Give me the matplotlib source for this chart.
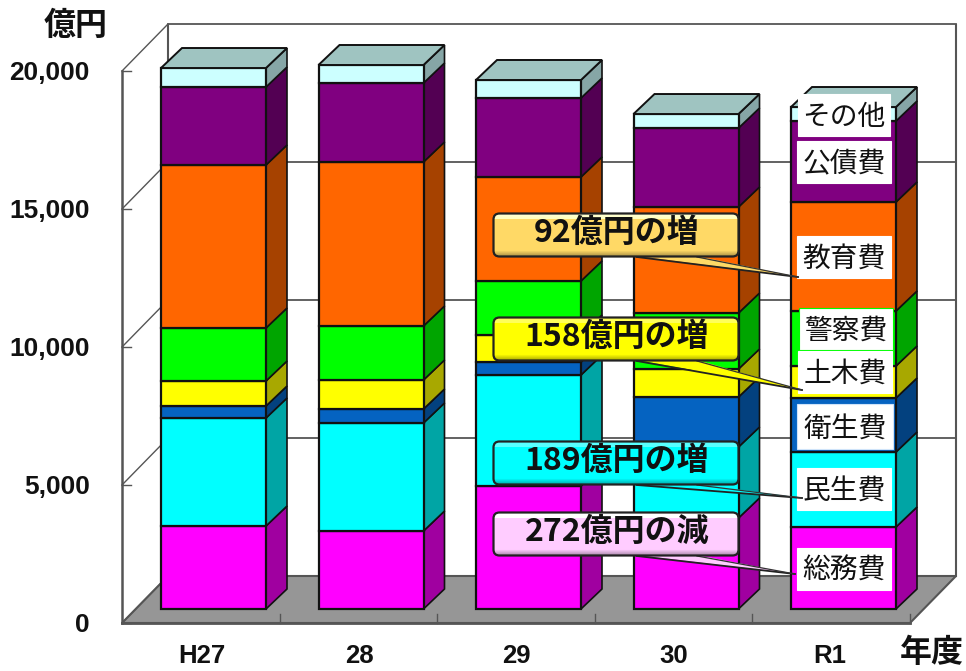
import numpy as np
import matplotlib
matplotlib.use("Agg")
import matplotlib.pyplot as plt
from matplotlib.patches import Polygon, FancyBboxPatch, Rectangle
from matplotlib.colors import to_rgb

plt.rcParams["font.family"] = ["Noto Sans CJK JP", "DejaVu Sans"]

W, H = 966, 671

years = ["H27", "28", "29", "30", "R1"]
y_ticks = [0, 5000, 10000, 15000, 20000]
y_labels = ["0", "5,000", "10,000", "15,000", "20,000"]

# 億円, bottom to top
somu = [3007, 2826, 4457, 3297, 2971]
minsei = [3913, 3913, 4022, 2572, 2717]
eisei = [435, 507, 471, 1812, 1957]
doboku = [906, 1051, 978, 1014, 1159]
keisatsu = [1920, 1957, 1957, 2029, 1993]
kyoiku = [5906, 5942, 3768, 3841, 3949]
kosai = [2826, 2862, 2862, 2862, 2935]
sonota = [688, 652, 652, 507, 507]

series = [somu, minsei, eisei, doboku, keisatsu, kyoiku, kosai, sonota]
face_colors = ["#FF00FF", "#00FFFF", "#0563C1", "#FFFF00", "#00FF00", "#FF6600", "#800080", "#CCFFFF"]
side_colors = ["#A000A0", "#00A5A5", "#03417F", "#A8A800", "#00A500", "#A64200", "#530053", "#86A6A6"]
top_color = "#9FC4C1"

labels = ["その他", "公債費", "教育費", "警察費", "土木費", "衛生費", "民生費", "総務費"]
label_boxes = [(798, 94, 92, 42), (797, 141, 94, 42), (797, 236, 94, 42), (799, 308, 94, 42),
               (798, 351, 94, 42), (797, 404, 96, 45), (797, 468, 94, 42), (797, 548, 94, 42)]
label_edges = ["white", "white", "white", "#00FF00", "white", "#CFE4FA", "white", "white"]

callouts = ["92億円の増", "158億円の増", "189億円の増", "272億円の減"]
callout_colors = ["#FFD966", "#FFFF00", "#00FFFF", "#FFCCFF"]
callout_y = [213, 317, 441, 512]
callout_tips = [(798, 277), (802, 390), (802, 498), (795, 574)]

fig = plt.figure(figsize=(W / 100, H / 100), dpi=100)

# pixel-space layer for the chart walls and annotations
bg = fig.add_axes([0, 0, 1, 1], zorder=0)
bg.set_xlim(0, W)
bg.set_ylim(H, 0)
bg.axis("off")

line = "#555555"
bg.add_patch(Polygon([(122, 623), (910, 623), (956, 576), (168, 576)], fc="#969696", ec=line, lw=1.5))
bg.plot([122, 122], [71, 623], color=line, lw=1.8)
bg.plot([168, 168], [25, 576], color=line, lw=1.5)
bg.plot([956, 956], [25, 576], color=line, lw=1.5)
bg.plot([122, 910], [623, 623], color=line, lw=2)
px_per_unit = 0.0276
for v, lab in zip(y_ticks, y_labels):
    yy = 623 - v * px_per_unit
    bg.plot([122, 168], [yy, yy - 47], color=line, lw=1)
    bg.plot([122, 131], [yy, yy], color=line, lw=1)
    if v > 0:
        bg.plot([168, 956], [yy - 47, yy - 47], color=line, lw=1.3)
    bg.text(90, yy + 2, lab, ha="right", va="center", fontsize=18.9,
            family="Liberation Sans", weight="bold", color="#111111")
for i in range(1, 6):
    xx = 122 + 157.6 * i
    bg.plot([xx, xx], [614, 623], color=line, lw=1)
label_x = [202, 359, 516, 674, 830]
for xx, lab in zip(label_x, years):
    bg.text(xx, 656, lab, ha="center", va="center", fontsize=18.5,
            family="Liberation Sans", weight="bold", color="#111111")
bg.text(76, 26, "億円", ha="center", va="center", fontsize=23, weight="bold", color="#111111")
bg.text(932, 653, "年度", ha="center", va="center", fontsize=23, weight="bold", color="#111111")

# bars: x is the category index, y the value in 億円
ax = fig.add_axes([0, 0, 1, 1], zorder=1)
ax.set_xlim(-213.5 / 157.5, (W - 213.5) / 157.5)
ax.set_ylim(-(H - 609) / px_per_unit, 609 / px_per_unit)
ax.axis("off")
ax.patch.set_alpha(0)

bar_w = 105 / 157.5
dx = 21 / 157.5
dy = 20 / px_per_unit
x = np.arange(len(years))
bottom = np.zeros(len(years))
edge = "#111111"
for vals, fc, sc in zip(series, face_colors, side_colors):
    vals = np.array(vals)
    ax.bar(x, vals, bar_w, bottom=bottom, color=fc, edgecolor=edge, linewidth=1.6, zorder=3)
    for xi, b, v in zip(x, bottom, vals):
        r = xi + bar_w / 2
        ax.add_patch(Polygon([(r, b), (r + dx, b + dy), (r + dx, b + v + dy), (r, b + v)],
                             fc=sc, ec=edge, lw=1.2, zorder=2))
    bottom = bottom + vals
for xi, t in zip(x, bottom):
    l, r = xi - bar_w / 2, xi + bar_w / 2
    ax.add_patch(Polygon([(l, t), (r, t), (r + dx, t + dy), (l + dx, t + dy)],
                         fc=top_color, ec=edge, lw=1.4, zorder=4))

# annotation layer
top = fig.add_axes([0, 0, 1, 1], zorder=2)
top.set_xlim(0, W)
top.set_ylim(H, 0)
top.axis("off")
top.patch.set_alpha(0)

for lab, (bx, by, bw, bh), ec in zip(labels, label_boxes, label_edges):
    top.add_patch(Rectangle((bx, by), bw, bh, fc="white", ec=ec, lw=0.8, zorder=3))
    top.text(bx + bw / 2, by + bh / 2 + 2, lab, ha="center", va="center", fontsize=20, color="#111111", zorder=4)

for txt, col, cy, tip in zip(callouts, callout_colors, callout_y, callout_tips):
    base = np.array(to_rgb(col))
    box = FancyBboxPatch((498, cy + 5), 236, 34, boxstyle="round,pad=4.5,rounding_size=6",
                         fc=col, ec="none", zorder=5)
    top.add_patch(box)
    # lighter strip at the top, darker rim at the bottom of the box
    ramp = np.linspace(0, 1, 44)
    shade = np.where(ramp < 0.12, 1.0 + (0.12 - ramp) * 2, np.where(ramp > 0.86, 1 - (ramp - 0.86) * 2.5, 1.0))
    img = np.clip(base[None, None, :] * shade[:, None, None] + (shade[:, None, None] > 1) * 0.35, 0, 1)
    im = top.imshow(img, extent=(493, 738, cy + 44, cy), aspect="auto", zorder=5.1)
    im.set_clip_path(box)
    top.add_patch(FancyBboxPatch((498, cy + 5), 236, 34, boxstyle="round,pad=4.5,rounding_size=6",
                                 fc="none", ec="#222222", lw=1.6, zorder=5.2))
    top.add_patch(Polygon([(637, cy + 43), (697, cy + 43), tip], fc=col, ec="none", zorder=5.05))
    top.plot([637, tip[0]], [cy + 44, tip[1]], color="#222222", lw=1.3, zorder=5.06)
    top.plot([697, tip[0]], [cy + 44, tip[1]], color="#333333", lw=0.9, zorder=5.06)
    top.text(617, cy + 20, txt, ha="center", va="center", fontsize=23, weight="bold", color="#111111", zorder=6)
top.set_xlim(0, W)
top.set_ylim(H, 0)

fig.savefig("out.png", dpi=100)
